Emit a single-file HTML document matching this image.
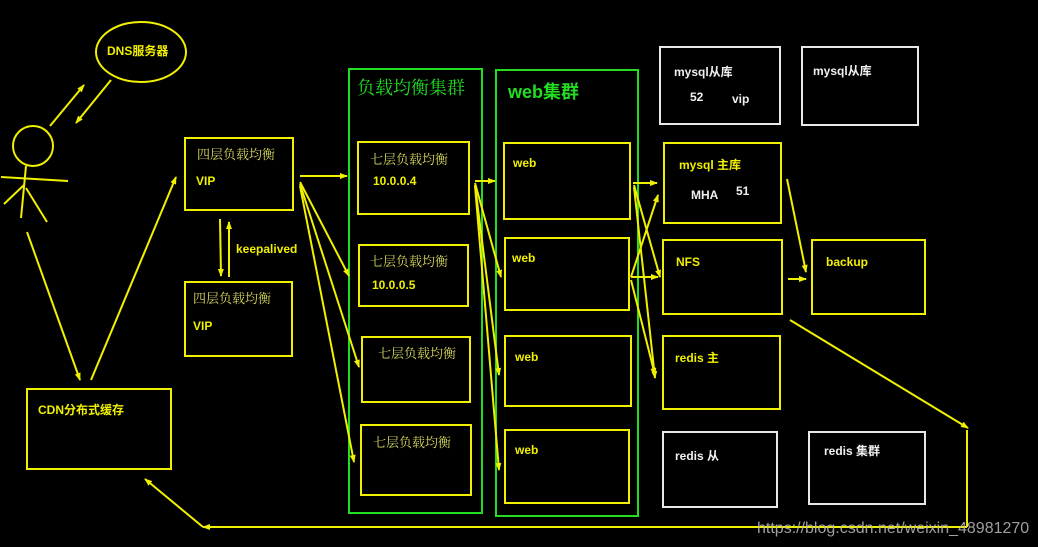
<!DOCTYPE html>
<html><head><meta charset="utf-8"><style>
html,body{margin:0;padding:0;background:#000;}
svg{display:block}
text{font-family:"Liberation Sans","Noto Sans CJK SC",sans-serif;font-weight:bold;font-size:12px;fill:#f0f000}
.s{font-family:"Liberation Serif","Noto Serif CJK SC",serif;font-weight:normal;fill:#d8d860;font-size:13px}
.w{fill:#f0f0f0}
</style></head><body>
<svg width="1038" height="547" viewBox="0 0 1038 547" xmlns="http://www.w3.org/2000/svg">
<defs><marker id="a" markerWidth="8" markerHeight="8" refX="7" refY="4" orient="auto" markerUnits="userSpaceOnUse"><path d="M0,1 L8,4 L0,7 z" fill="#f0f000"/></marker></defs>
<g fill="none" stroke="#f0f000" stroke-width="2">
<ellipse cx="141" cy="52" rx="45" ry="30"/>
<circle cx="33" cy="146" r="20"/>
<line x1="1" y1="177" x2="68" y2="181"/>
<line x1="26" y1="166" x2="21" y2="218"/>
<line x1="24" y1="185" x2="4" y2="204"/>
<line x1="26" y1="188" x2="47" y2="222"/>
<rect x="185" y="138" width="108" height="72"/>
<rect x="185" y="282" width="107" height="74"/>
<rect x="27" y="389" width="144" height="80"/>
<rect x="358" y="142" width="111" height="72"/>
<rect x="359" y="245" width="109" height="61"/>
<rect x="362" y="337" width="108" height="65"/>
<rect x="361" y="425" width="110" height="70"/>
<rect x="504" y="143" width="126" height="76"/>
<rect x="505" y="238" width="124" height="72"/>
<rect x="505" y="336" width="126" height="70"/>
<rect x="505" y="430" width="124" height="73"/>
<rect x="664" y="143" width="117" height="80"/>
<rect x="663" y="240" width="119" height="74"/>
<rect x="663" y="336" width="117" height="73"/>
<rect x="812" y="240" width="113" height="74"/>
</g>
<g fill="none" stroke="#e8e8e8" stroke-width="2">
<rect x="660" y="47" width="120" height="77"/>
<rect x="802" y="47" width="116" height="78"/>
<rect x="663" y="432" width="114" height="75"/>
<rect x="809" y="432" width="116" height="72"/>
</g>
<g fill="none" stroke="#22dd22" stroke-width="2">
<rect x="349" y="69" width="133" height="444"/>
<rect x="496" y="70" width="142" height="446"/>
</g>
<g stroke="#f0f000" stroke-width="2" marker-end="url(#a)">
<line x1="50" y1="126" x2="84" y2="85"/>
<line x1="111" y1="80" x2="76" y2="123"/>
<line x1="27" y1="232" x2="80" y2="380"/>
<line x1="91" y1="380" x2="176" y2="177"/>
<line x1="220" y1="219" x2="221" y2="276"/>
<line x1="229" y1="277" x2="229" y2="222"/>
<line x1="300" y1="176" x2="347" y2="176"/>
<line x1="300" y1="182" x2="349" y2="276"/>
<line x1="300" y1="184" x2="359" y2="367"/>
<line x1="300" y1="186" x2="354" y2="462"/>
<line x1="475" y1="181" x2="495" y2="181"/>
<line x1="475" y1="183" x2="501" y2="277"/>
<line x1="475" y1="185" x2="499" y2="375"/>
<line x1="475" y1="186" x2="499" y2="470"/>
<line x1="633" y1="183" x2="657" y2="183"/>
<line x1="634" y1="185" x2="660" y2="277"/>
<line x1="634" y1="187" x2="655" y2="378"/>
<line x1="631" y1="277" x2="658" y2="195"/>
<line x1="631" y1="277" x2="658" y2="277"/>
<line x1="631" y1="280" x2="655" y2="375"/>
<line x1="787" y1="179" x2="806" y2="272"/>
<line x1="788" y1="279" x2="806" y2="279"/>
<line x1="790" y1="320" x2="968" y2="428"/>
<line x1="967" y1="527" x2="203" y2="527"/>
<line x1="203" y1="527" x2="145" y2="479"/>
</g>
<line x1="967" y1="430" x2="967" y2="527" stroke="#f0f000" stroke-width="2"/>
<text x="107" y="55">DNS服务器</text>
<text class="s" x="197" y="159">四层负载均衡</text>
<text x="196" y="185">VIP</text>
<text x="236" y="253">keepalived</text>
<text class="s" x="193" y="303">四层负载均衡</text>
<text x="193" y="330">VIP</text>
<text x="38" y="414">CDN分布式缓存</text>
<text x="357" y="94" style="font-family:'Noto Serif CJK SC',serif;font-weight:normal;font-size:18px;fill:#22dd22">负载均衡集群</text>
<text x="508" y="98" style="font-size:18px;fill:#22dd22">web集群</text>
<text class="s" x="370" y="164">七层负载均衡</text>
<text x="373" y="185">10.0.0.4</text>
<text class="s" x="370" y="266">七层负载均衡</text>
<text x="372" y="289">10.0.0.5</text>
<text class="s" x="378" y="358">七层负载均衡</text>
<text class="s" x="373" y="447">七层负载均衡</text>
<text x="513" y="167">web</text>
<text x="512" y="262">web</text>
<text x="515" y="361">web</text>
<text x="515" y="454">web</text>
<text x="679" y="169">mysql 主库</text>
<text class="w" x="691" y="199">MHA</text>
<text class="w" x="736" y="195">51</text>
<text x="676" y="266">NFS</text>
<text x="675" y="362">redis  主</text>
<text x="826" y="266">backup</text>
<text class="w" x="674" y="76">mysql从库</text>
<text class="w" x="690" y="101">52</text>
<text class="w" x="732" y="103">vip</text>
<text class="w" x="813" y="75">mysql从库</text>
<text class="w" x="675" y="460">redis 从</text>
<text class="w" x="824" y="455">redis 集群</text>
<text x="757" y="533" style="font-weight:normal;font-size:16px;fill:#bbbbbb;opacity:0.85">https://blog.csdn.net/weixin_48981270</text>
</svg>
</body></html>
